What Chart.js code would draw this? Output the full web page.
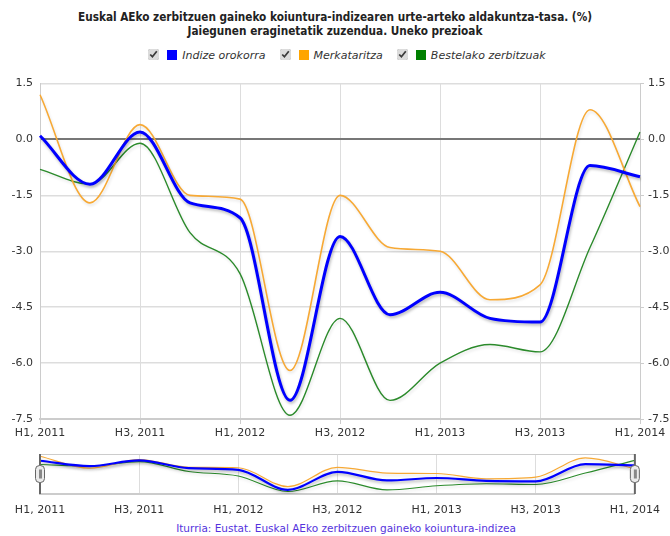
<!DOCTYPE html>
<html>
<head>
<meta charset="utf-8">
<script src="https://cdn.jsdelivr.net/npm/chart.js@4.4.1/dist/chart.umd.min.js"></script>
<style>
    body { margin: 0; background: #fff; font-family: "DejaVu Sans", Verdana, sans-serif; }
    #wrap { position: relative; width: 670px; height: 536px; overflow: hidden; }
    #title {
        position: absolute; left: 0; top: 10px; width: 670px; text-align: center;
        font-family: "DejaVu Sans Condensed", "DejaVu Sans", sans-serif;
        font-weight: bold; font-size: 11.7px; line-height: 14px; color: #222;
    }
    #legend {
        position: absolute; left: 12px; top: 49px; width: 670px; text-align: center;
        font-size: 11px; font-style: italic; color: #333;
    }
    #legend label { display: inline-block; margin: 0 7px; cursor: pointer; }
    #legend input {
        width: 11px; height: 11px; margin: 0 8px 0 0; vertical-align: -1px;
        accent-color: #dcdcdc;
    }
    #legend .sw { display: inline-block; width: 10px; height: 10px; margin-right: 5px; vertical-align: -1px; }
    #mainChart { position: absolute; left: 0; top: 70px; }
    #navChart { position: absolute; left: 0; top: 445px; }
    #source {
        position: absolute; left: 11px; top: 522px; width: 670px; text-align: center;
        font-size: 10.5px; color: #5533dd;
    }
</style>
</head>
<body>
<div id="wrap">
    <div id="title">Euskal AEko zerbitzuen gaineko koiuntura-indizearen urte-arteko aldakuntza-tasa. (%)<br>Jaiegunen eraginetatik zuzendua. Uneko prezioak</div>
    <div id="legend"></div>
    <canvas id="mainChart" width="670" height="375"></canvas>
    <canvas id="navChart" width="670" height="76"></canvas>
    <div id="source">Iturria: Eustat. Euskal AEko zerbitzuen gaineko koiuntura-indizea</div>
</div>

<script>
// Datuak (hiruhilekoak)
const quarters = [
    "H1, 2011", "H2, 2011", "H3, 2011", "H4, 2011",
    "H1, 2012", "H2, 2012", "H3, 2012", "H4, 2012",
    "H1, 2013", "H2, 2013", "H3, 2013", "H4, 2013",
    "H1, 2014"
];
const indizeOrokorra     = [0.1, -1.2, 0.2, -1.7, -2.1, -7.0, -2.6, -4.7, -4.1, -4.8, -4.9, -0.7, -1.0];
const merkataritza       = [1.2, -1.7, 0.4, -1.5, -1.6, -6.2, -1.5, -2.9, -3.0, -4.3, -3.9, 0.8, -1.8];
const bestelakoZerbitzuak = [-0.8, -1.2, -0.1, -2.5, -3.6, -7.4, -4.8, -7.0, -6.0, -5.5, -5.7, -2.9, 0.2];

const yMin = -7.5;
const yMax = 1.5;
const yStep = 1.5;

const seriesNames = ["Indize orokorra", "Merkataritza", "Bestelako zerbitzuak"];
const seriesColors = ["#0000ff", "#f7a935", "#2b8a2b"];
const legendColors = ["#0000ff", "#ffa500", "#008000"];

// Itzala lerroei (Highcharts antzera)
const shadowPlugin = {
    id: "lineShadow",
    beforeDatasetDraw(chart, args) {
        const ctx = chart.ctx;
        ctx.save();
        ctx.shadowColor = args.index === 0 ? "rgba(0,0,0,0.28)" : "rgba(0,0,0,0.12)";
        ctx.shadowBlur = 3;
        ctx.shadowOffsetX = 1;
        ctx.shadowOffsetY = 2;
    },
    afterDatasetDraw(chart) {
        chart.ctx.restore();
    }
};

function makeDatasets(widths) {
    return [indizeOrokorra, merkataritza, bestelakoZerbitzuak].map((data, i) => ({
        label: seriesNames[i],
        data: data,
        borderColor: seriesColors[i],
        backgroundColor: seriesColors[i],
        borderWidth: widths[i],
        pointRadius: 0,
        pointHoverRadius: 4,
        cubicInterpolationMode: "monotone",
        fill: false
    }));
}

const evenOnly = (ctx, on, off) => (ctx.index % 2 === 0 ? on : off);

const mainChart = new Chart(document.getElementById("mainChart"), {
    type: "line",
    data: { labels: quarters, datasets: makeDatasets([3, 1.6, 1.4]) },
    plugins: [shadowPlugin],
    options: {
        responsive: false,
        devicePixelRatio: 1,
        animation: false,
        layout: { padding: { top: 9, left: 0, right: 0, bottom: 0 } },
        interaction: { mode: "index", intersect: false },
        plugins: {
            legend: { display: false },
            title: { display: false },
            tooltip: {
                callbacks: {
                    label: (c) => c.dataset.label + ": " + c.raw.toFixed(1) + " %"
                }
            }
        },
        scales: {
            x: {
                offset: false,
                afterFit: (s) => { s.height = 26; },
                border: { color: "#cccccc", width: 2 },
                grid: {
                    color: (c) => evenOnly(c, "#dddddd", "rgba(0,0,0,0)"),
                    tickColor: (c) => evenOnly(c, "#cccccc", "rgba(0,0,0,0)"),
                    tickLength: 5,
                    lineWidth: 1
                },
                ticks: {
                    autoSkip: false,
                    maxRotation: 0,
                    padding: 3,
                    color: "#333",
                    font: { family: "DejaVu Sans", size: 11 },
                    callback: function (value, index) {
                        return index % 2 === 0 ? this.getLabelForValue(value) : "";
                    }
                }
            },
            y: {
                position: "left",
                min: yMin,
                max: yMax,
                afterFit: (s) => { s.width = 40; },
                border: { color: "#cccccc", width: 1 },
                grid: {
                    color: (c) => (c.tick && c.tick.value === 0 ? "#777777" : "#dddddd"),
                    lineWidth: (c) => (c.tick && c.tick.value === 0 ? 2 : 1.5),
                    drawTicks: false
                },
                ticks: {
                    stepSize: yStep,
                    padding: 7,
                    color: "#333",
                    font: { family: "DejaVu Sans", size: 11 },
                    callback: (v) => v.toFixed(1)
                }
            },
            y2: {
                position: "right",
                min: yMin,
                max: yMax,
                afterFit: (s) => { s.width = 30; },
                border: { color: "#cccccc", width: 1 },
                grid: {
                    drawOnChartArea: false,
                    color: "#cccccc",
                    tickLength: 4
                },
                ticks: {
                    stepSize: yStep,
                    padding: 4,
                    color: "#333",
                    font: { family: "DejaVu Sans", size: 11 },
                    callback: (v) => v.toFixed(1)
                }
            }
        }
    }
});

// Nabigatzailea: goiko marra eta heldulekuak
const navigatorPlugin = {
    id: "navigatorFrame",
    afterDraw(chart) {
        const { ctx, chartArea: a } = chart;
        ctx.save();
        ctx.strokeStyle = "#cccccc";
        ctx.lineWidth = 1;
        ctx.beginPath();
        ctx.moveTo(a.left, a.top + 0.5);
        ctx.lineTo(a.right, a.top + 0.5);
        ctx.stroke();

        [a.left, a.right].forEach((x) => {
            ctx.strokeStyle = "#666666";
            ctx.lineWidth = 2;
            ctx.beginPath();
            ctx.moveTo(x, a.top);
            ctx.lineTo(x, a.bottom);
            ctx.stroke();

            const hw = 9, hh = 17;
            const hx = x - hw / 2, hy = (a.top + a.bottom) / 2 - hh / 2;
            ctx.fillStyle = "#ebebeb";
            ctx.strokeStyle = "#666666";
            ctx.lineWidth = 1;
            ctx.beginPath();
            ctx.roundRect(hx, hy, hw, hh, 4);
            ctx.fill();
            ctx.stroke();
            ctx.fillStyle = "#888888";
            ctx.fillRect(x - 1, hy + 4, 3, hh - 8);
        });
        ctx.restore();
    }
};

const navChart = new Chart(document.getElementById("navChart"), {
    type: "line",
    data: { labels: quarters, datasets: makeDatasets([2.2, 1.2, 1.1]) },
    plugins: [shadowPlugin, navigatorPlugin],
    options: {
        responsive: false,
        devicePixelRatio: 1,
        animation: false,
        events: [],
        layout: { padding: { top: 9, left: 40, right: 30, bottom: 0 } },
        plugins: { legend: { display: false }, tooltip: { enabled: false } },
        scales: {
            x: {
                offset: false,
                afterFit: (s) => { s.height = 27; },
                border: { color: "#cccccc", width: 2 },
                grid: {
                    color: (c) => evenOnly(c, "#dddddd", "rgba(0,0,0,0)"),
                    drawTicks: false
                },
                ticks: {
                    autoSkip: false,
                    maxRotation: 0,
                    padding: 10,
                    color: "#333",
                    font: { family: "DejaVu Sans", size: 11 },
                    callback: function (value, index) {
                        return index % 2 === 0 ? this.getLabelForValue(value) : "";
                    }
                }
            },
            y: { display: false, min: -8, max: 1.75 }
        }
    }
});

// Legenda kontrol-laukiekin
const legendBox = document.getElementById("legend");
seriesNames.forEach((name, i) => {
    const lab = document.createElement("label");
    const cb = document.createElement("input");
    cb.type = "checkbox";
    cb.checked = true;
    cb.addEventListener("change", () => {
        [mainChart, navChart].forEach((ch) => {
            ch.setDatasetVisibility(i, cb.checked);
            ch.update();
        });
    });
    const sw = document.createElement("span");
    sw.className = "sw";
    sw.style.background = legendColors[i];
    lab.appendChild(cb);
    lab.appendChild(sw);
    lab.appendChild(document.createTextNode(name));
    legendBox.appendChild(lab);
});
</script>
</body>
</html>
